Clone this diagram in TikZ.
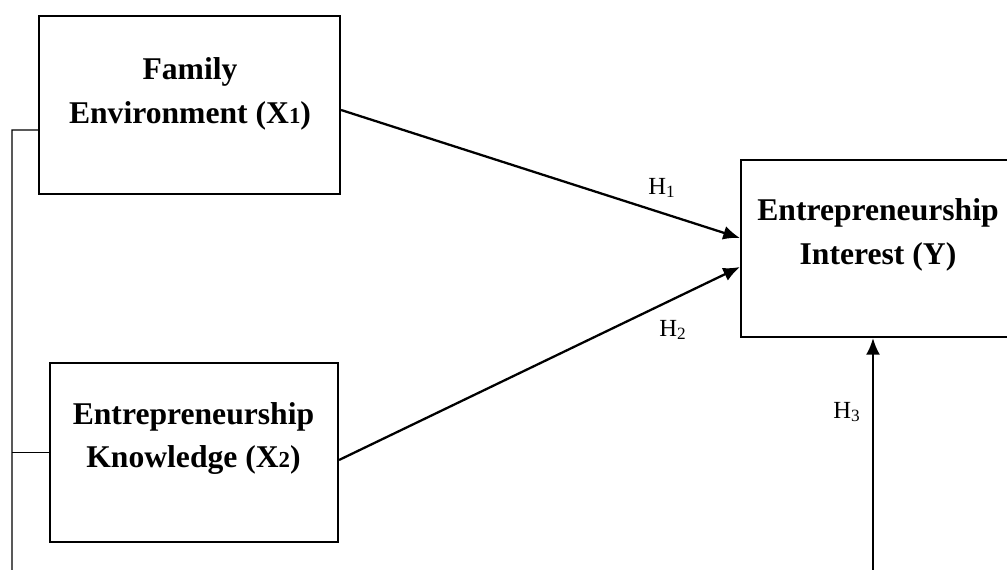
\documentclass[tikz,border=0pt]{standalone}
\usepackage{fontspec}
\setmainfont{Liberation Serif}
\usepackage{tikz}
\usetikzlibrary{positioning,calc,arrows.meta}

\begin{document}
\begin{tikzpicture}[> = {Latex[length=9.5pt,width=8pt]},
    varbox/.style={draw, line width=1.2pt, minimum width=#1, minimum height=3.56cm, inner sep=0pt},
    vartext/.style={align=center, font=\fontsize{18}{25}\selectfont\bfseries},
    hyp/.style={font=\fontsize{14}{16}\selectfont},
    link/.style={draw, line width=1.3pt, ->}]

        \useasboundingbox (0,0) rectangle (20.14,11.40);

        % variables
        \node[varbox=6.02cm] (fam) at (3.79,9.30) {};
        \node[vartext] (famtext) at (3.80,9.52) {Family\\Environment (X{\fontsize{13}{13}\selectfont 1})};
        \node[varbox=5.76cm, minimum height=3.58cm] (know) at (3.88,2.35) {};
        \node[vartext] (knowtext) at (3.87,2.63) {Entrepreneurship\\Knowledge (X{\fontsize{13}{13}\selectfont 2})};
        \node[varbox=5.48cm, minimum height=3.54cm] (inter) at (17.56,6.43) {};
        \node[vartext] (intertext) at (17.56,6.70) {Entrepreneurship\\Interest (Y)};

        % hypotheses
        \path[link] ([yshift=-.1cm]fam.east) -- ([yshift=.21cm]inter.west);
        \path[link] ([yshift=-.15cm]know.east) -- ([yshift=-.37cm]inter.west);
        \coordinate (base) at (17.46,-.2);
        \path[link] (base) -- (base |- inter.south);
        \node[hyp] (h1) at (13.24,7.64) {H\textsubscript{1}};
        \node[hyp] (h2) at (13.46,4.80) {H\textsubscript{2}};
        \node[hyp] (h3) at (16.94,3.16) {H\textsubscript{3}};

        % simultaneous
        \coordinate (brtop) at (.24,8.80);
        \coordinate (brbot) at (.24,-.2);
        \draw[line width=.6pt] ([yshift=-.5cm]fam.west) -- (brtop) -- (brbot);
        \draw[line width=.6pt] (know.west) -- (know.west -| brtop);
\end{tikzpicture}
\end{document}
